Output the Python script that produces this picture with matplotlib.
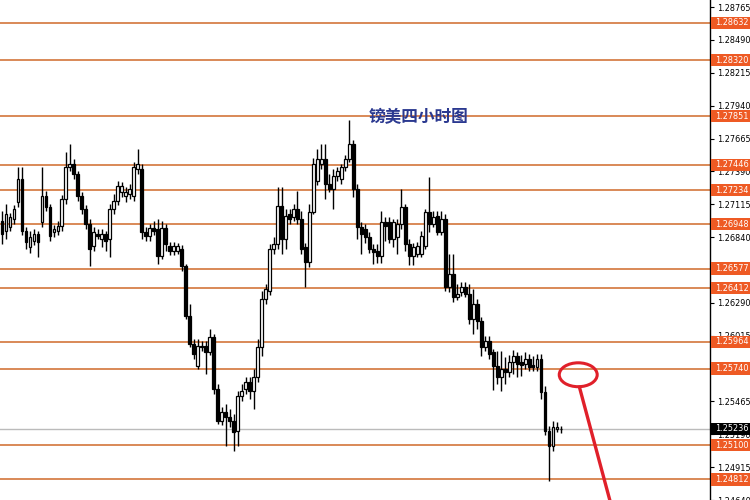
import matplotlib
matplotlib.use("Agg")
import matplotlib.pyplot as plt
from matplotlib.patches import Ellipse, Rectangle
import matplotlib.transforms as mtransforms

plt.rcParams['font.family'] = ['Noto Sans CJK SC', 'DejaVu Sans']

opens = [1.26973,1.26889,1.26922,1.26989,1.27131,1.27323,1.26889,1.26756,1.26806,1.26864,
         1.26964,1.27181,1.27089,1.26881,1.26889,1.26931,1.27156,1.27423,1.27448,1.27365,
         1.27181,1.27073,1.26948,1.26764,1.26864,1.26822,1.26864,1.26822,1.27073,1.27139,
         1.27214,1.27181,1.27198,1.27181,1.27406,1.27406,1.26881,1.26847,1.26914,1.26906,
         1.26681,1.26914,1.26764,1.26722,1.26722,1.26739,1.26597,1.26180,1.25947,1.25763,
         1.25930,1.25930,1.25880,1.26005,1.25571,1.25305,1.25380,1.25338,1.25305,1.25221,
         1.25513,1.25571,1.25630,1.25555,1.25672,1.25922,1.26322,1.26389,1.26739,1.26781,
         1.27098,1.26822,1.27031,1.27006,1.27073,1.26989,1.26756,1.26631,1.27048,1.27306,
         1.27448,1.27490,1.27281,1.27239,1.27348,1.27323,1.27423,1.27490,1.27615,1.27239,
         1.26922,1.26906,1.26839,1.26739,1.26722,1.26681,1.26964,1.26964,1.26822,1.26839,
         1.26948,1.27089,1.26781,1.26681,1.26697,1.26697,1.26764,1.27048,1.26948,1.27014,
         1.26881,1.26989,1.26422,1.26531,1.26339,1.26380,1.26422,1.26364,1.26156,1.26280,
         1.26139,1.25922,1.25972,1.25880,1.25763,1.25672,1.25738,1.25713,1.25797,1.25847,
         1.25797,1.25780,1.25822,1.25772,1.25755,1.25822,1.25547,1.25221,1.25096,1.25238,
         1.25238]
highs = [1.27056,1.27114,1.27039,1.27106,1.27423,1.27423,1.26922,1.26889,1.26906,1.26889,
         1.27423,1.27223,1.27114,1.26939,1.26973,1.27189,1.27548,1.27615,1.27490,1.27390,
         1.27214,1.27106,1.26989,1.26922,1.26906,1.26906,1.26889,1.27114,1.27198,1.27306,
         1.27298,1.27256,1.27281,1.27465,1.27573,1.27448,1.26922,1.26948,1.26973,1.26989,
         1.26973,1.26948,1.26797,1.26797,1.26789,1.26772,1.26614,1.26280,1.25988,1.25988,
         1.25972,1.25972,1.26072,1.26030,1.25613,1.25421,1.25446,1.25405,1.25363,1.25555,
         1.25613,1.25672,1.25672,1.25738,1.25988,1.26389,1.26447,1.26781,1.26839,1.27256,
         1.27256,1.27073,1.27073,1.27114,1.27223,1.27056,1.26789,1.27114,1.27506,1.27573,
         1.27615,1.27615,1.27365,1.27406,1.27423,1.27448,1.27531,1.27823,1.27656,1.27281,
         1.26964,1.26948,1.26881,1.26781,1.26781,1.27056,1.27006,1.27006,1.26989,1.26989,
         1.27239,1.27114,1.26822,1.26789,1.26797,1.26889,1.27073,1.27339,1.27056,1.27056,
         1.27056,1.27031,1.26697,1.26697,1.26447,1.26464,1.26464,1.26447,1.26405,1.26322,
         1.26172,1.26013,1.26013,1.25905,1.25888,1.25888,1.25838,1.25855,1.25897,1.25880,
         1.25855,1.25880,1.25863,1.25847,1.25863,1.25863,1.25597,1.25263,1.25305,1.25296,
         1.25263]
lows = [1.26781,1.26822,1.26889,1.26948,1.27089,1.26856,1.26739,1.26706,1.26772,1.26672,
        1.26922,1.27056,1.26806,1.26839,1.26856,1.26889,1.27114,1.27390,1.27323,1.27139,
        1.27031,1.26906,1.26597,1.26722,1.26822,1.26756,1.26722,1.26672,1.27031,1.27106,
        1.27173,1.27131,1.27156,1.27139,1.27365,1.26822,1.26806,1.26806,1.26856,1.26614,
        1.26656,1.26722,1.26689,1.26689,1.26697,1.26556,1.26156,1.25922,1.25822,1.25738,
        1.25888,1.25697,1.25855,1.25530,1.25279,1.25271,1.25096,1.25254,1.25046,1.25096,
        1.25471,1.25530,1.25488,1.25405,1.25630,1.25847,1.26280,1.26355,1.26697,1.26739,
        1.26697,1.26739,1.26948,1.26973,1.26948,1.26697,1.26422,1.26589,1.27031,1.27273,
        1.27406,1.27156,1.27214,1.27073,1.27306,1.27281,1.27390,1.27465,1.27173,1.26822,
        1.26697,1.26789,1.26706,1.26614,1.26622,1.26622,1.26806,1.26789,1.26756,1.26697,
        1.26906,1.26722,1.26606,1.26606,1.26672,1.26672,1.26739,1.26881,1.26922,1.26856,
        1.26856,1.26389,1.26380,1.26297,1.26313,1.26347,1.26339,1.26114,1.26030,1.26072,
        1.25847,1.25888,1.25822,1.25563,1.25613,1.25555,1.25613,1.25672,1.25697,1.25672,
        1.25680,1.25738,1.25722,1.25722,1.25722,1.25488,1.25188,1.24796,1.25054,1.25212,
        1.25204]
closes = [1.26864,1.27031,1.27006,1.27073,1.27323,1.26889,1.26797,1.26839,1.26864,1.26797,
          1.27181,1.27089,1.26847,1.26906,1.26931,1.27156,1.27423,1.27448,1.27365,1.27181,
          1.27073,1.26948,1.26739,1.26881,1.26847,1.26864,1.26806,1.27073,1.27139,1.27264,
          1.27264,1.27214,1.27239,1.27423,1.27448,1.26881,1.26847,1.26914,1.26889,1.26681,
          1.26914,1.26781,1.26722,1.26764,1.26764,1.26597,1.26180,1.25947,1.25863,1.25930,
          1.25922,1.25880,1.26005,1.25571,1.25305,1.25380,1.25338,1.25305,1.25212,1.25513,
          1.25555,1.25630,1.25555,1.25672,1.25922,1.26322,1.26405,1.26739,1.26781,1.27098,
          1.26822,1.27014,1.26989,1.27073,1.26989,1.26739,1.26631,1.27048,1.27448,1.27490,
          1.27490,1.27281,1.27239,1.27348,1.27390,1.27423,1.27490,1.27615,1.27239,1.26922,
          1.26864,1.26839,1.26739,1.26714,1.26681,1.26964,1.26931,1.26822,1.26964,1.26948,
          1.27089,1.26781,1.26681,1.26756,1.26764,1.26847,1.27048,1.26948,1.27006,1.26881,
          1.26989,1.26422,1.26531,1.26339,1.26364,1.26422,1.26364,1.26156,1.26280,1.26139,
          1.25922,1.25972,1.25863,1.25763,1.25672,1.25738,1.25713,1.25797,1.25847,1.25780,
          1.25772,1.25822,1.25755,1.25755,1.25822,1.25547,1.25221,1.25096,1.25254,1.25254,
          1.25236]

levels = [1.28632, 1.28320, 1.27851, 1.27446, 1.27234, 1.26948, 1.26577,
          1.26412, 1.25964, 1.25740, 1.25100, 1.24812]
level_labels = ["1.28632", "1.28320", "1.27851", "1.27446", "1.27234", "1.26948",
                "1.26577", "1.26412", "1.25964", "1.25740", "1.25100", "1.24812"]
current_price = 1.25236
current_label = "1.25236"
axis_ticks = [1.28765, 1.28490, 1.28215, 1.27940, 1.27665, 1.27390, 1.27115, 1.26840,
              1.26565, 1.26290, 1.26015, 1.25740, 1.25465, 1.25190, 1.24915, 1.24640]
axis_tick_labels = ["1.28765", "1.28490", "1.28215", "1.27940", "1.27665", "1.27390",
                    "1.27115", "1.26840", "1.26565", "1.26290", "1.26015", "1.25740",
                    "1.25465", "1.25190", "1.24915", "1.24640"]
title = "镑美四小时图"

fig = plt.figure(figsize=(7.5, 5), dpi=100)
ax = fig.add_axes([0, 0, 710/750, 1])
ax.set_facecolor('white')

n = len(opens)
ax.set_xlim(-0.5, 177.3)
ax.set_ylim(1.24654, 1.28824)

line_col = '#D0692A'
box_col = '#EE5A24'
for lv in levels:
    ax.axhline(lv, color=line_col, lw=1.1, zorder=1)
ax.axhline(current_price, color='#BBBBBB', lw=1.0, zorder=1)

bw = 0.7
for i in range(n):
    o, h, l, c = opens[i], highs[i], lows[i], closes[i]
    ax.plot([i, i], [l, h], color='black', lw=1.0, zorder=2, solid_capstyle='butt')
    bottom = min(o, c)
    height = max(abs(c - o), 0.00002)
    fc = 'white' if c >= o else 'black'
    ax.add_patch(Rectangle((i - bw/2, bottom), bw, height, facecolor=fc,
                           edgecolor='black', lw=0.9, zorder=3))

# right axis
for s in ['left', 'top', 'bottom']:
    ax.spines[s].set_visible(False)
ax.spines['right'].set_color('black')
ax.spines['right'].set_linewidth(1.0)
ax.set_xticks([])
ax.yaxis.tick_right()
ax.set_yticks(axis_ticks)
ax.set_yticklabels(axis_tick_labels, fontsize=5.9, family='DejaVu Sans')
ax.tick_params(axis='y', length=3, width=0.8, pad=2, colors='black')

trans = mtransforms.blended_transform_factory(ax.transAxes, ax.transData)
box_x0 = 1.0015
box_w = 750/710 - box_x0 + 0.01
box_h = 0.00102

def price_box(lv, lab, fc, z):
    ax.add_patch(Rectangle((box_x0, lv - box_h/2), box_w, box_h, transform=trans,
                           facecolor=fc, edgecolor='none', zorder=z, clip_on=False))
    ax.text(1.0075, lv, lab, transform=trans, fontsize=5.9, family='DejaVu Sans',
            color='white', va='center', ha='left', zorder=z + 0.5, clip_on=False)

for lv, lab in zip(levels, level_labels):
    price_box(lv, lab, box_col, 10)
price_box(current_price, current_label, 'black', 12)

ax.text(0.59, 0.766, title, transform=ax.transAxes, fontsize=12,
        color='#2B3990', ha='center', va='center', fontweight='bold')

# red annotation
ax.add_patch(Ellipse((144.3, 1.25688), 9.5, 0.0020, facecolor='none',
                     edgecolor='#E0202A', lw=2.2, zorder=6))
ax.plot([144.6, 152.2], [1.25585, 1.24640], color='#E0202A', lw=2.4, zorder=6)

fig.savefig('out.png', dpi=100, facecolor='white')
